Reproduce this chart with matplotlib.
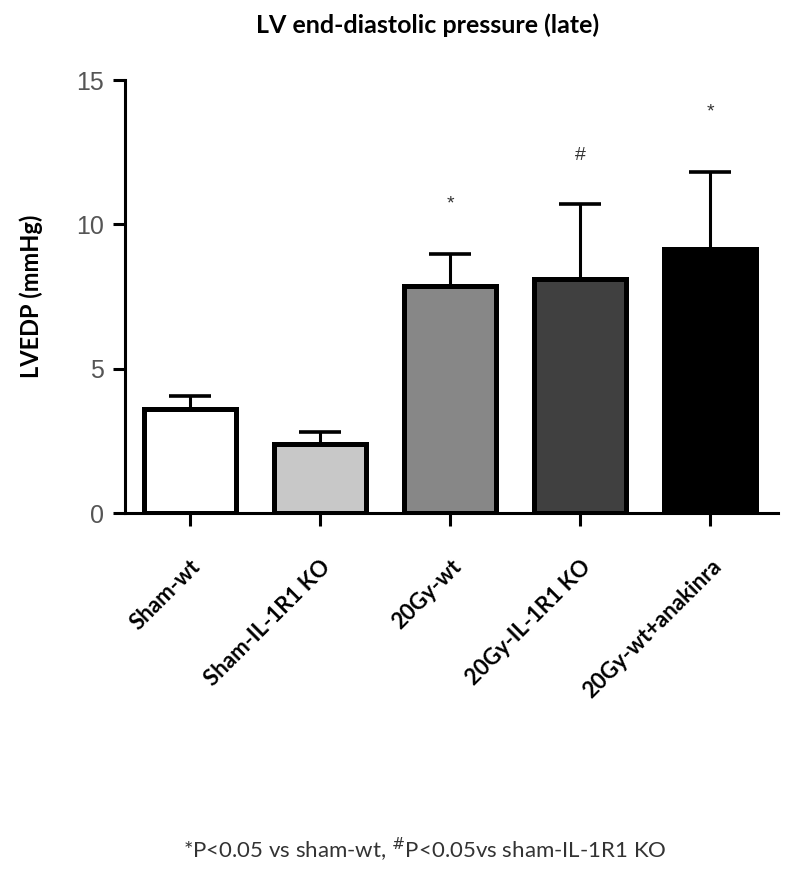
import matplotlib
matplotlib.use("Agg")
import matplotlib.pyplot as plt

# data
groups = ["Sham-wt", "Sham-IL-1R1 KO", "20Gy-wt", "20Gy-IL-1R1 KO", "20Gy-wt+anakinra"]
means = [3.6, 2.4, 7.85, 8.1, 9.15]
sem = [0.45, 0.4, 1.12, 2.6, 2.65]
marks = ["", "", "*", "#", "*"]
mark_y = [0, 0, 10.7, 12.4, 13.9]
fills = ["#ffffff", "#c8c8c8", "#878787", "#404040", "#000000"]

fig = plt.figure(figsize=(7.93, 8.81), dpi=100)
ax = fig.add_axes([0.1576, 0.4177, 0.8234, 0.4914])

x = list(range(len(groups)))
ax.bar(x, means, width=0.71, color=fills, edgecolor="black", linewidth=3.6, zorder=2)
ax.errorbar(x, means, yerr=[[0] * len(sem), sem], fmt="none", ecolor="black",
            elinewidth=2.2, capsize=15, capthick=2.6, zorder=1)

for xi, m, my in zip(x, marks, mark_y):
    if m:
        ax.text(xi, my, m, ha="center", va="center", fontsize=14, color="#333333",
                family="Liberation Sans")

ax.set_xlim(-0.5, 4.52)
ax.set_ylim(0, 15)
ax.set_yticks([0, 5, 10, 15])
ax.set_xticks(x)
ax.set_xticklabels(groups, rotation=45, ha="right", rotation_mode="anchor",
                   fontsize=16, fontweight="bold", family="Lato")
for lab in ax.get_yticklabels():
    lab.set_family("Liberation Sans")
    lab.set_fontsize(18)
    lab.set_color("#555555")

for side in ("top", "right"):
    ax.spines[side].set_visible(False)
ax.spines["left"].set_linewidth(2.2)
ax.spines["bottom"].set_linewidth(2.2)
ax.tick_params(axis="y", length=9, width=2.2, pad=6)
ax.tick_params(axis="x", length=9, width=2.2, pad=22)

ax.set_ylabel("LVEDP (mmHg)", fontsize=17, fontweight="bold", family="Lato", labelpad=24)
ax.set_title("LV end-diastolic pressure (late)", fontsize=18, fontweight="bold",
             family="Lato", pad=34, x=0.464)

fig.text(0.536, 0.035, "*P<0.05 vs sham-wt, $^{\\#}$P<0.05vs sham-IL-1R1 KO",
         ha="center", va="center", fontsize=16, color="#333333", family="Lato")

fig.savefig("out.png", dpi=100)
